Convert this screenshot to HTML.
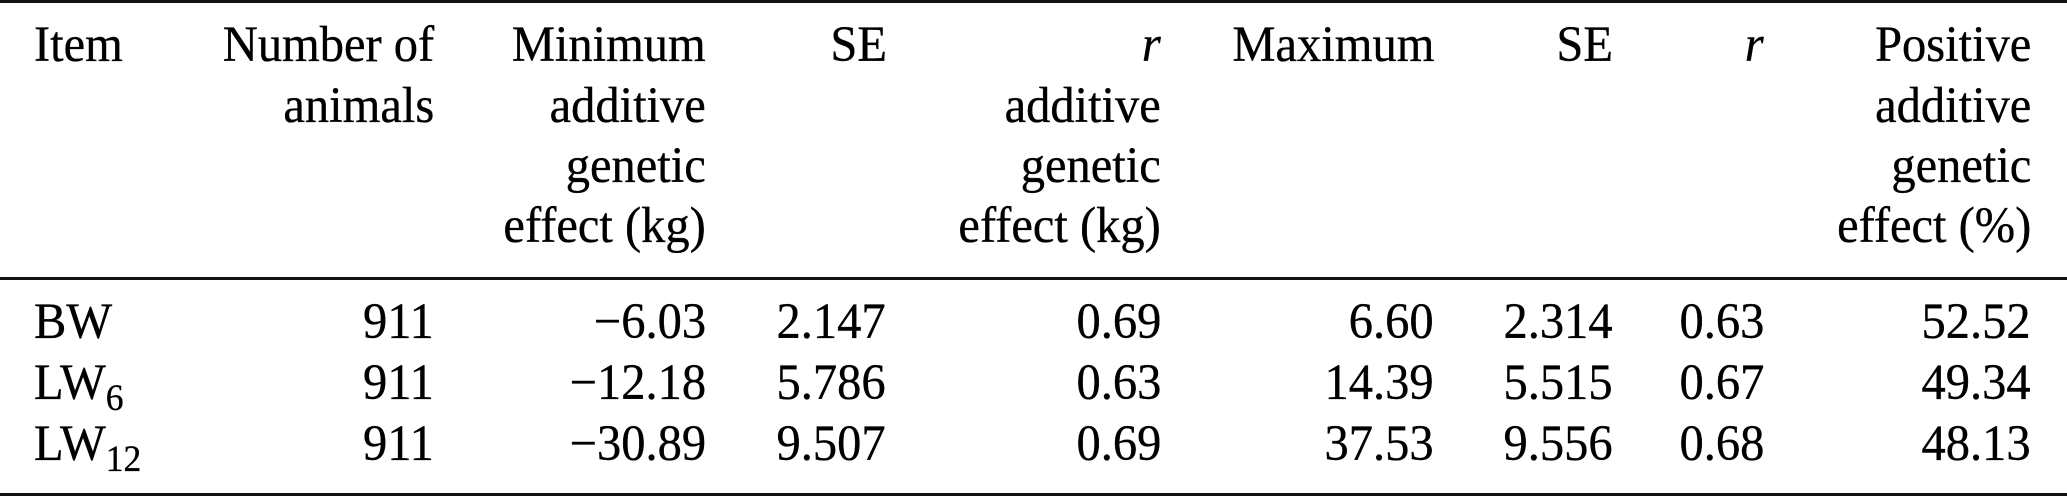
<!DOCTYPE html>
<html>
<head>
<meta charset="utf-8">
<style>
  html, body { margin:0; padding:0; background:#fff; }
  body { width:2067px; height:497px; position:relative; overflow:hidden;
         font-family:"Liberation Serif", "Times New Roman", serif; color:#000; }
  .rule { position:absolute; left:0; width:2067px; background:#111; }
  .col { position:absolute; white-space:nowrap; font-size:50.5px; text-align:right;
         transform:scaleX(0.96); transform-origin:right top;
         -webkit-text-stroke:0.35px #000; }
  .hd { top:14.3px; line-height:60.3px; }
  .dt { top:290.5px; line-height:61px; }
  .l { text-align:left; transform-origin:left top; }
  sub { font-size:37px; vertical-align:-11px; line-height:0; }
  i { font-style:italic; }
</style>
</head>
<body>
  <div class="rule" style="top:0px;height:3px;"></div>
  <div class="rule" style="top:277px;height:2.5px;"></div>
  <div class="rule" style="top:493px;height:2.5px;"></div>

  <!-- header -->
  <div class="col hd l" style="left:34px;">Item</div>
  <div class="col hd" style="right:1633px;">Number of<br>animals</div>
  <div class="col hd" style="right:1361px;">Minimum<br>additive<br>genetic<br>effect (kg)</div>
  <div class="col hd" style="right:1180px;">SE</div>
  <div class="col hd" style="right:906px;"><i>r</i><br>additive<br>genetic<br>effect (kg)</div>
  <div class="col hd" style="right:633px;">Maximum</div>
  <div class="col hd" style="right:454px;">SE</div>
  <div class="col hd" style="right:303px;"><i>r</i></div>
  <div class="col hd" style="right:36px;">Positive<br>additive<br>genetic<br>effect (%)</div>

  <!-- data -->
  <div class="col dt l" style="left:34px;">BW<br>LW<sub>6</sub><br>LW<sub>12</sub></div>
  <div class="col dt" style="right:1633px;">911<br>911<br>911</div>
  <div class="col dt" style="right:1361px;">&minus;6.03<br>&minus;12.18<br>&minus;30.89</div>
  <div class="col dt" style="right:1181px;">2.147<br>5.786<br>9.507</div>
  <div class="col dt" style="right:906px;">0.69<br>0.63<br>0.69</div>
  <div class="col dt" style="right:633px;">6.60<br>14.39<br>37.53</div>
  <div class="col dt" style="right:454px;">2.314<br>5.515<br>9.556</div>
  <div class="col dt" style="right:303px;">0.63<br>0.67<br>0.68</div>
  <div class="col dt" style="right:36px;">52.52<br>49.34<br>48.13</div>
</body>
</html>
